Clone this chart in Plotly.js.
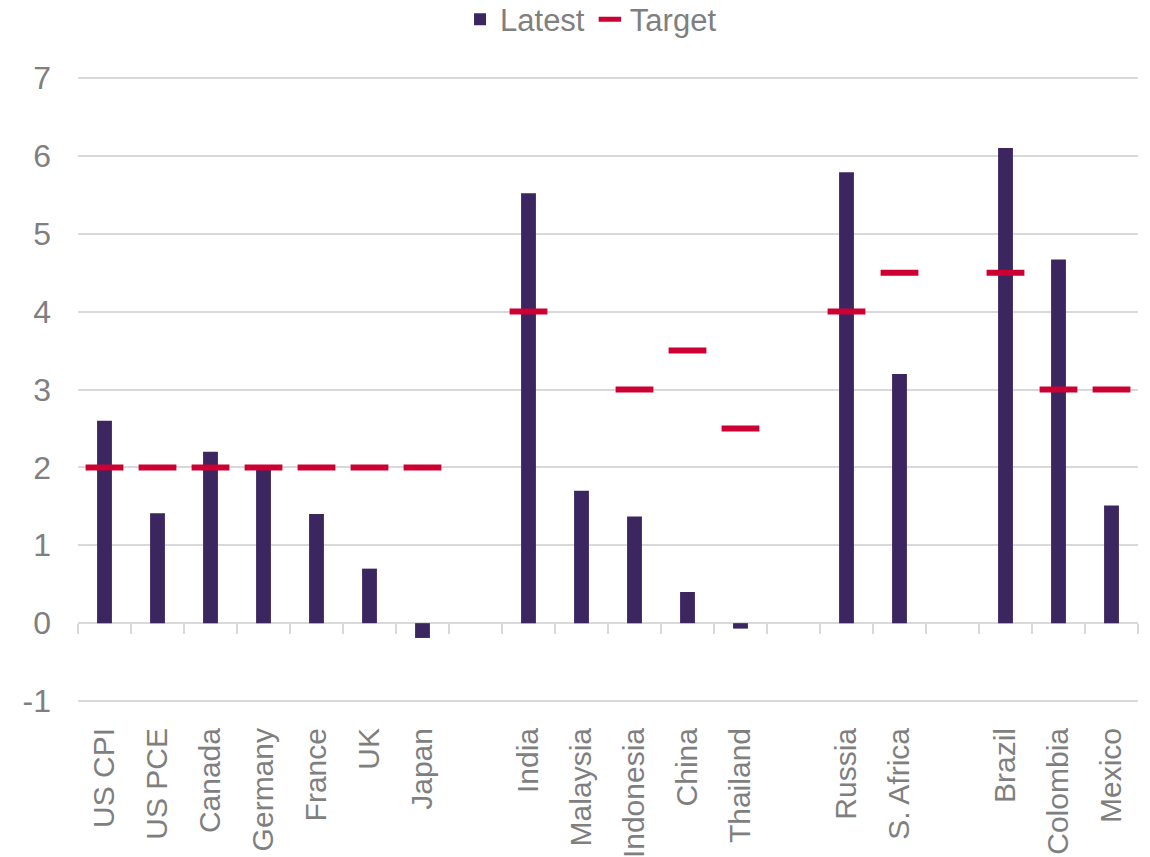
<!DOCTYPE html>
<html>
<head>
<meta charset="utf-8">
<script src="https://cdn.plot.ly/plotly-3.0.1.min.js"></script>
<style>html,body{margin:0;padding:0;background:#fff;}#chart{width:1150px;height:857px;}</style>
</head>
<body>
<div id="chart"></div>
<script>
// Categories (blank entries are spacer slots between groups)
const categories = ["US CPI","US PCE","Canada","Germany","France","UK","Japan"," ",
  "India","Malaysia","Indonesia","China","Thailand","  ",
  "Russia","S. Africa","   ","Brazil","Colombia","Mexico"];
const latest = [2.6,1.41,2.2,1.99,1.4,0.7,-0.19,null,
  5.52,1.7,1.37,0.4,-0.07,null,
  5.79,3.2,null,6.1,4.67,1.51];
const target = [2,2,2,2,2,2,2,null,
  4,null,3,3.5,2.5,null,
  4,4.5,null,4.5,3,3];
const yTickVals = [-1,0,1,2,3,4,5,6,7];
const yTickText = ["-1","0","1","2","3","4","5","6","7"];

const grey = "#7f7f7f";
const gridc = "#d9d9d9";
const fontFam = "Liberation Sans, Arial, sans-serif";
const yMin = -1.025, yMax = 7.025;
const zeroPos = (0 - yMin) / (yMax - yMin);

const traces = [
  {type:"bar", name:"Latest", x:categories, y:latest,
   marker:{color:"#3c2660", line:{width:0}}, xaxis:"x", yaxis:"y"},
  {type:"scatter", mode:"markers", name:"Target", x:categories, y:target,
   marker:{symbol:"line-ew-open", size:27, line:{color:"#cc0033", width:6}, color:"#cc0033"},
   xaxis:"x2", yaxis:"y", cliponaxis:false}
];

const layout = {
  width:1150, height:857,
  margin:{l:78, r:12, t:76, b:154, autoexpand:false},
  paper_bgcolor:"#fff", plot_bgcolor:"#fff",
  font:{family:fontFam, size:30, color:grey},
  bargap:0.72,
  showlegend:true,
  legend:{orientation:"h", x:0.484, xanchor:"center", y:1.09, yanchor:"middle",
    font:{size:31, color:grey}, itemwidth:30, tracegroupgap:0},
  xaxis:{type:"category", categoryorder:"array", categoryarray:categories,
    range:[-0.5,19.5], tickangle:-90, showgrid:false, showline:false, zeroline:false,
    ticks:"outside", ticklen:12, tickcolor:"rgba(0,0,0,0)",
    tickfont:{size:30, color:grey}, fixedrange:true, automargin:false},
  xaxis2:{type:"category", categoryorder:"array", categoryarray:categories,
    range:[-0.5,19.5], overlaying:"x", anchor:"free", position:zeroPos,
    showticklabels:false, showgrid:false, showline:false, zeroline:false,
    ticks:"outside", tickson:"boundaries", ticklen:10, tickwidth:2, tickcolor:gridc},
  yaxis:{range:[yMin,yMax], tickmode:"array", tickvals:yTickVals, ticktext:yTickText,
    showgrid:true, gridcolor:gridc, gridwidth:2,
    zeroline:true, zerolinecolor:gridc, zerolinewidth:2, showline:false,
    ticks:"", tickfont:{size:32, color:grey}, ticklabelstandoff:26, automargin:false}
};

Plotly.newPlot("chart", traces, layout, {displayModeBar:false, staticPlot:true});
</script>
</body>
</html>
